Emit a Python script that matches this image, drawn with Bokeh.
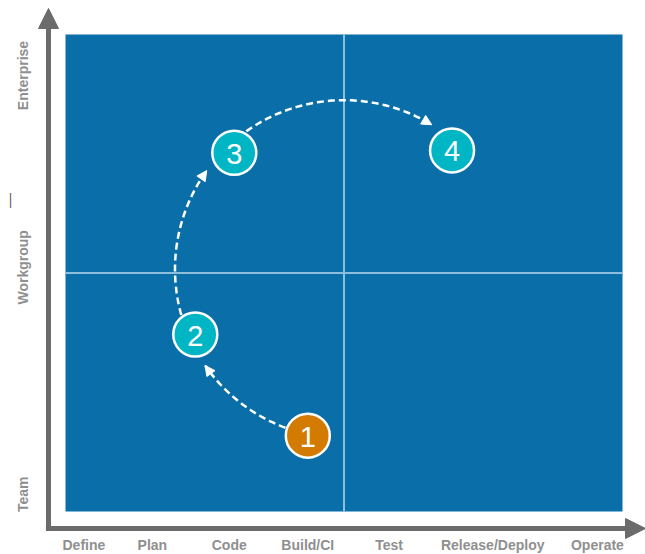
import numpy as np
from bokeh.plotting import figure
from bokeh.models import Range1d, Arrow, NormalHead, ColumnDataSource
from bokeh.core.properties import value
from bokeh.embed import file_html
from bokeh.resources import INLINE

# Lifecycle stages along the horizontal axis and their label positions (0-100 scale)
stages = ["Define", "Plan", "Code", "Build/CI", "Test", "Release/Deploy", "Operate"]
stage_pos = [3.3, 15.6, 29.4, 43.5, 58.1, 76.7, 95.5]

# Organisational scope along the vertical axis
scopes = ["Team", "Workgroup", "Enterprise"]
scope_pos = [3.6, 51.2, 91.4]

# Adoption steps inside the quadrant (x = stage, y = scope, both 0-100)
step_labels = ["1", "2", "3", "4"]
step_x = [43.5, 23.3, 30.3, 69.4]
step_y = [15.9, 37.1, 75.2, 75.7]
step_colors = ["#d27b00", "#00b6c4", "#00b6c4", "#00b6c4"]

W, H = 645, 554
x0, x1 = -65 / 5.57, 580 / 5.57
y0, y1 = -43 / 4.77, 100 + 34 / 4.77

p = figure(width=W, height=H, output_backend="svg", toolbar_location=None,
           x_range=Range1d(x0, x1), y_range=Range1d(y0, y1),
           min_border=0, border_fill_color="white", background_fill_color="white")
p.axis.visible = False
p.grid.visible = False
p.outline_line_color = None

# Blue quadrant field with its two dividers
p.quad(left=0, right=100, bottom=0, top=100, fill_color="#0a6fa8", line_color=None)
p.segment(x0=[50, 0], y0=[0, 50], x1=[50, 100], y1=[100, 50],
          line_color="#8cbfdc", line_width=2)

# Gray axis arrows
gray = "#6b6b6b"
ax_x = -3.05
ax_y = -3.56
p.add_layout(Arrow(x_start=ax_x, y_start=ax_y - 2.6 / 4.77, x_end=ax_x, y_end=(511 - 8) / 4.77,
                   line_color=gray, line_width=5,
                   end=NormalHead(size=20, fill_color=gray, line_color=gray, line_width=1)))
p.add_layout(Arrow(x_start=ax_x - 2.6 / 5.57, y_start=ax_y, x_end=x1, y_end=ax_y,
                   line_color=gray, line_width=5,
                   end=NormalHead(size=20, fill_color=gray, line_color=gray, line_width=1)))

# Dashed circular path linking the steps, clockwise around the quadrant centre
sx = W / (x1 - x0)
sy = H / (y1 - y0)
r_px = 169
cx, cy = 50, 50.8
angles = [np.arctan2((y - cy) * sy, (x - cx) * sx) for x, y in zip(step_x, step_y)]
for i in range(1, len(angles)):
    while angles[i] > angles[i - 1]:
        angles[i] -= 2 * np.pi
gap_start = np.radians(8)
gap_end = np.radians(11)
for a, b in zip(angles[:-1], angles[1:]):
    t = np.linspace(a - gap_start, b + gap_end, 80)
    xs = cx + r_px * np.cos(t) / sx
    ys = cy + r_px * np.sin(t) / sy
    p.line(xs, ys, line_color="white", line_width=2.5, line_dash="7 4")
    tb = b + gap_end
    ta = tb + np.radians(2)
    p.add_layout(Arrow(x_start=cx + r_px * np.cos(ta) / sx, y_start=cy + r_px * np.sin(ta) / sy,
                       x_end=cx + r_px * np.cos(tb) / sx, y_end=cy + r_px * np.sin(tb) / sy,
                       line_alpha=0,
                       end=NormalHead(size=10, fill_color="white", line_color="white", line_width=1)))

# Numbered step markers
src = ColumnDataSource(dict(x=step_x, y=step_y, label=step_labels, color=step_colors))
p.scatter("x", "y", source=src, size=44, fill_color="color",
          line_color="white", line_width=2.5)
p.text("x", "y", text="label", source=src, text_color="white",
       text_font=value("Liberation Sans"), text_font_size="29px",
       text_align="center", text_baseline="middle", y_offset=1)

# Axis category labels
label_color = "#8f8f8f"
p.text(x=stage_pos, y=[-7.1] * len(stages), text=stages, text_color=label_color,
       text_font=value("Liberation Sans"), text_font_size="14px", text_font_style="bold",
       text_align="center", text_baseline="middle")
p.text(x=[-7.7] * len(scopes), y=scope_pos, text=scopes, text_color=label_color,
       angle=np.pi / 2, text_font=value("Liberation Sans"), text_font_size="14px",
       text_font_style="bold", text_align="center", text_baseline="middle")
p.text(x=[-10.2], y=[65.2], text=["\u2014"], text_color="#555555", angle=np.pi / 2,
       text_font=value("Liberation Sans"), text_font_size="15px",
       text_align="center", text_baseline="middle")

open("out.html", "w").write(file_html(p, INLINE))
